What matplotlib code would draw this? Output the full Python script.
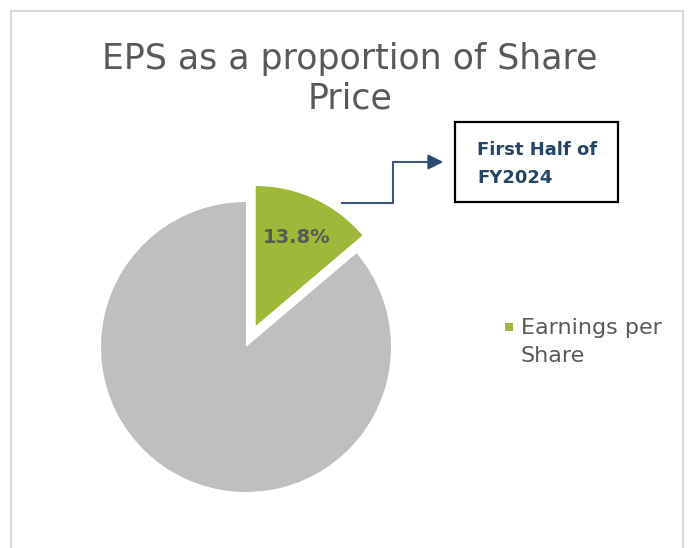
import matplotlib
matplotlib.use("Agg")
import matplotlib.pyplot as plt
from matplotlib.patches import Rectangle

# data
labels = ["Earnings per\nShare", "Share Price"]
values = [13.8, 86.2]
colors = ["#A0B83A", "#BEBFC1"]
title = "EPS as a proportion of Share\nPrice"
callout = "First Half of\nFY2024"

W, H = 689, 548
grey_txt = "#595959"
navy = "#254466"
font = "DejaVu Sans"

fig = plt.figure(figsize=(W / 100, H / 100), dpi=100)
ax = fig.add_axes([0, 0, 1, 1])

# chart border (bottom runs off the picture)
ax.add_patch(Rectangle((11, -5), 672, H - 11 + 5, fill=False,
                       edgecolor="#D9D9D9", lw=1.5))

def pct(p):
    return "%.1f%%" % p if p < 50 else ""

r = 145
wedges, texts, autotexts = ax.pie(values, colors=colors, startangle=90,
                                  counterclock=False, explode=[0.16 * r, 0],
                                  radius=r, center=(246, H - 347),
                                  autopct=pct, pctdistance=0.67,
                                  frame=True)
# exploded slice is drawn a little smaller, as in the original
wedges[0].set_radius(r * 0.965)
ax.set_xlim(0, W)
ax.set_ylim(0, H)
ax.set_aspect("equal")
ax.axis("off")
for t in autotexts:
    t.set_fontsize(14)
    t.set_fontweight("bold")
    t.set_color(grey_txt)
    t.set_family(font)

ax.text(350, H - 79, title, ha="center", va="center", fontsize=25,
        color=grey_txt, family=font, linespacing=1.22)

# callout box and elbow arrow
ax.text(477, H - 164, callout, ha="left", va="center", fontsize=13,
        fontweight="bold", color=navy, family=font, linespacing=1.75)
ax.add_patch(Rectangle((455, H - 202), 163, 80, fill=False,
                       edgecolor="black", lw=1.6))
ax.plot([342, 393, 393, 432], [H - 203, H - 203, H - 162, H - 162],
        color="#3E5679", lw=1.5, solid_joinstyle="miter")
ax.annotate("", xy=(446, H - 162), xytext=(430, H - 162),
            arrowprops=dict(arrowstyle="-|>,head_length=0.9,head_width=0.45",
                            color="#2B4A6E", lw=1.5))

# legend entry
ax.add_patch(Rectangle((505, H - 331), 8, 8, color=colors[0], lw=0))
ax.text(521, H - 342, labels[0], ha="left", va="center", fontsize=16,
        color=grey_txt, family=font, linespacing=1.45)

fig.savefig("out.png", dpi=100, facecolor="white")
